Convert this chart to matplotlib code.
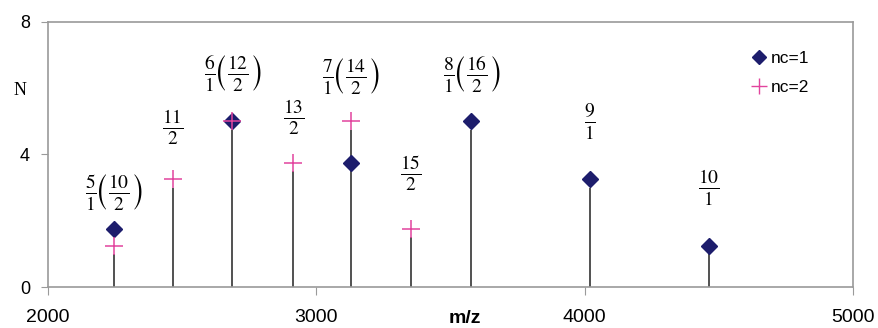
import numpy as np
import matplotlib
matplotlib.use('Agg')
import matplotlib.pyplot as plt
from matplotlib.lines import Line2D

# peak positions (m/z) and counts
mz = [2246, 2465, 2687, 2914, 3129, 3353, 3578, 4020, 4464]
stem_h = [1.0, 3.0, 4.75, 3.5, 4.75, 1.5, 4.75, 3.0, 1.0]

# nc=1 points (diamonds)
mz_nc1 = [2246, 2687, 3129, 3578, 4020, 4464]
n_nc1 = [1.75, 5.0, 3.75, 5.0, 3.25, 1.25]

# nc=2 points (plus)
mz_nc2 = [2246, 2465, 2687, 2914, 3129, 3353]
n_nc2 = [1.25, 3.25, 5.0, 3.75, 5.0, 1.75]

labels = [r'$\frac{5}{1}\!\left(\frac{10}{2}\right)$',
          r'$\frac{11}{2}$',
          r'$\frac{6}{1}\!\left(\frac{12}{2}\right)$',
          r'$\frac{13}{2}$',
          r'$\frac{7}{1}\!\left(\frac{14}{2}\right)$',
          r'$\frac{15}{2}$',
          r'$\frac{8}{1}\!\left(\frac{16}{2}\right)$',
          r'$\frac{9}{1}$',
          r'$\frac{10}{1}$']
label_y = [2.84, 4.83, 6.43, 5.14, 6.35, 3.44, 6.4, 5.0, 3.0]

plt.rcParams['font.family'] = 'Liberation Sans'
plt.rcParams['mathtext.fontset'] = 'stix'

fig = plt.figure(figsize=(8.79, 3.28), dpi=100)
ax = fig.add_axes([0.0546, 0.125, 0.9158, 0.808])

navy = '#1d1d6c'
pink = '#e2449e'
grey = '#9a9a9a'

ax.vlines(mz, 0, stem_h, color='#333333', lw=1.2, zorder=2)
ax.plot(mz_nc1, n_nc1, 'D', color=navy, ms=8.5, ls='none', zorder=3, label='nc=1')
ax.plot(mz_nc2, n_nc2, '+', color=pink, ms=13, mew=1.1, ls='none', zorder=4, label='nc=2')

for x, y, t in zip(mz, label_y, labels):
    ax.text(x, y, t, ha='center', va='center', fontsize=20)

ax.set_xlim(2000, 5000)
ax.set_ylim(0, 8)
ax.set_xticks([2000, 3000, 4000, 5000])
ax.set_yticks([0, 4, 8])
for s in ax.spines.values():
    s.set_color(grey)
    s.set_linewidth(1.2)
ax.tick_params(axis='y', direction='out', length=5, color=grey, labelsize=13, pad=8)
ax.tick_params(axis='x', direction='out', length=6, color=grey, labelsize=14, pad=10)

ax.set_xlabel('m/z', fontsize=14, fontweight='bold')
ax.xaxis.set_label_coords(0.518, -0.085)
ax.text(-0.035, 0.743, 'N', transform=ax.transAxes, fontsize=13,
        family='Liberation Serif', ha='center', va='center')

h = [Line2D([], [], marker='D', color=navy, ls='none', ms=7),
     Line2D([], [], marker='+', color=pink, ls='none', ms=11, mew=1)]
ax.legend(h, ['nc=1', 'nc=2'], loc='upper right', bbox_to_anchor=(0.965, 0.95),
          frameon=False, fontsize=12.5, handlelength=0.8, handletextpad=0.3,
          labelspacing=0.8)

fig.savefig('out.png', dpi=100)
